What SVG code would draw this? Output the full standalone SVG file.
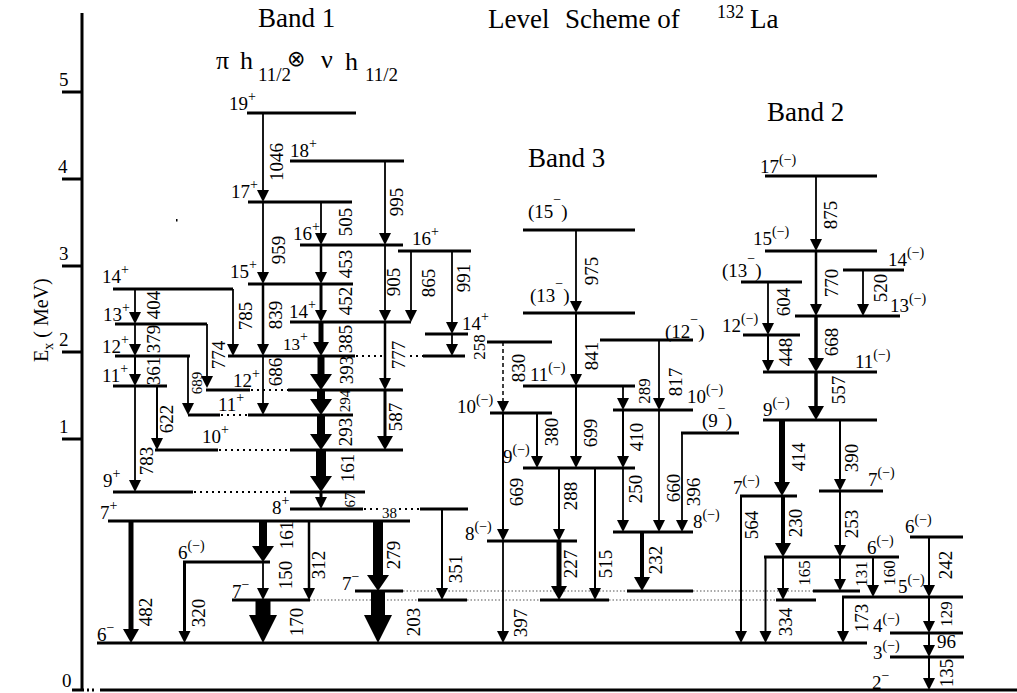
<svg xmlns="http://www.w3.org/2000/svg" width="1017" height="693" viewBox="0 0 1017 693" font-family="'Liberation Serif', 'DejaVu Serif', serif">
<style>
text, tspan{font-family:'Liberation Serif','DejaVu Serif',serif;fill:#000}
.lv{stroke:#000;stroke-width:3;fill:none}
.dt{stroke:#000;stroke-width:2;stroke-dasharray:2 4;fill:none}
.dg{stroke:#555;stroke-width:1.2;stroke-dasharray:1.5 2;fill:none}
.ax{stroke:#000;stroke-width:3;fill:none}
.tr line{stroke:#000;stroke-width:1.8;fill:none}
.s{font-size:19px}
.ss{font-size:17px}
.p{font-size:14px}
.e{font-size:19px;text-anchor:middle}
.es{font-size:15px;text-anchor:middle}
.e17{font-size:17px;text-anchor:middle}
.ti{font-size:27px}
text.sym{font-family:'DejaVu Sans',sans-serif}
</style>
<defs>
<marker id="a1" markerUnits="userSpaceOnUse" markerWidth="12" markerHeight="12" refX="0" refY="6" orient="auto" overflow="visible"><path d="M0,0 L12,6 L0,12 Z"/></marker>
<marker id="a2" markerUnits="userSpaceOnUse" markerWidth="14" markerHeight="16" refX="0" refY="8" orient="auto" overflow="visible"><path d="M0,0 L14,8 L0,16 Z"/></marker>
<marker id="a3" markerUnits="userSpaceOnUse" markerWidth="16" markerHeight="22" refX="0" refY="11" orient="auto" overflow="visible"><path d="M0,0 L16,11 L0,22 Z"/></marker>
<marker id="a4" markerUnits="userSpaceOnUse" markerWidth="28" markerHeight="28" refX="0" refY="14" orient="auto" overflow="visible"><path d="M0,0 L28,14 L0,28 Z"/></marker>
</defs>

<g id="axis">
<line class="ax" x1="82" y1="13" x2="82" y2="690"/>
<line class="ax" x1="62" y1="92" x2="82" y2="92"/>
<line class="ax" x1="62" y1="179" x2="82" y2="179"/>
<line class="ax" x1="62" y1="266" x2="82" y2="266"/>
<line class="ax" x1="62" y1="352" x2="82" y2="352"/>
<line class="ax" x1="62" y1="439" x2="82" y2="439"/>
<text class="s" x="59" y="86">5</text>
<text class="s" x="58" y="173">4</text>
<text class="s" x="59" y="260">3</text>
<text class="s" x="59" y="346">2</text>
<text class="s" x="59" y="433">1</text>
<text class="s" x="62" y="687">0</text>
<text font-size="20" transform="translate(48,362) rotate(-90)">E<tspan font-size="14" dy="5">x</tspan><tspan dy="-5"> ( MeV)</tspan></text>
<rect x="176" y="219" width="1.5" height="2.5" fill="#000"/>
</g>

<g id="titles">
<text class="ti" x="258" y="27">Band 1</text>
<text class="ti" y="28"><tspan x="488">Level</tspan><tspan x="565">Scheme of</tspan></text>
<text font-size="18" x="717" y="18">132</text>
<text class="ti" x="750" y="28">La</text>
<text font-size="26" x="216" y="69">π</text>
<text font-size="26" x="240" y="69">h</text>
<text font-size="19" x="258" y="81">11/2</text>
<text class="sym" font-size="22" x="287" y="66">⊗</text>
<text font-size="26" x="321" y="68">ν</text>
<text font-size="26" x="345" y="70">h</text>
<text font-size="19" x="365" y="81">11/2</text>
<text class="ti" x="528" y="167">Band 3</text>
<text class="ti" x="767" y="121">Band 2</text>
</g>

<g id="b1-19p"><line class="lv" x1="247" y1="113" x2="356" y2="113"/><text class="s" x="229" y="110">19<tspan class="p" dy="-9">+</tspan></text></g>
<g id="b1-18p"><line class="lv" x1="290" y1="161" x2="404" y2="161"/><text class="s" x="290" y="157">18<tspan class="p" dy="-9">+</tspan></text></g>
<g id="b1-17p"><line class="lv" x1="248" y1="202" x2="352" y2="202"/><text class="s" x="231" y="198">17<tspan class="p" dy="-9">+</tspan></text></g>
<g id="b1-16p"><line class="lv" x1="300" y1="245" x2="403" y2="245"/><text class="s" x="293" y="240">16<tspan class="p" dy="-9">+</tspan></text></g>
<g id="b1-16pb"><line class="lv" x1="398" y1="251" x2="471" y2="251"/><text class="s" x="412" y="245">16<tspan class="p" dy="-9">+</tspan></text></g>
<g id="b1-15p"><line class="lv" x1="248" y1="284" x2="353" y2="284"/><text class="s" x="230" y="278">15<tspan class="p" dy="-9">+</tspan></text></g>
<g id="b1-14pa"><line class="lv" x1="113" y1="289" x2="233" y2="289"/><text class="s" x="102" y="283">14<tspan class="p" dy="-9">+</tspan></text></g>
<g id="b1-14p"><line class="lv" x1="290" y1="322" x2="411" y2="322"/><text class="s" x="289" y="318">14<tspan class="p" dy="-9">+</tspan></text></g>
<g id="b1-14pb"><line class="lv" x1="425" y1="334" x2="468" y2="334"/><text class="s" x="462" y="330">14<tspan class="p" dy="-9">+</tspan></text></g>
<g id="b1-13pa"><line class="lv" x1="115" y1="324" x2="207" y2="324"/><text class="s" x="103" y="321">13<tspan class="p" dy="-9">+</tspan></text></g>
<g id="b1-13p"><line class="lv" x1="228" y1="356" x2="355" y2="356"/><line class="dt" x1="356" y1="356" x2="383" y2="356"/><line class="dt" x1="410" y1="356" x2="423" y2="356"/><line class="lv" x1="423" y1="356" x2="465" y2="356"/><text class="ss" x="283" y="350">13<tspan class="p" dy="-9">+</tspan></text></g>
<g id="b1-12pa"><line class="lv" x1="115" y1="356" x2="190" y2="356"/><text class="s" x="102" y="353">12<tspan class="p" dy="-9">+</tspan></text></g>
<g id="b1-11pa"><line class="lv" x1="113" y1="386" x2="167" y2="386"/><text class="s" x="102" y="382">11<tspan class="p" dy="-9">+</tspan></text></g>
<g id="b1-12p"><line class="lv" x1="206" y1="390" x2="250" y2="390"/><line class="dt" x1="251" y1="390" x2="288" y2="390"/><line class="lv" x1="288" y1="390" x2="403" y2="390"/><text class="s" x="233" y="387">12<tspan class="p" dy="-9">+</tspan></text></g>
<g id="b1-11p"><line class="lv" x1="188" y1="415" x2="220" y2="415"/><line class="dt" x1="221" y1="415" x2="248" y2="415"/><line class="lv" x1="248" y1="415" x2="353" y2="415"/><text class="s" x="218" y="411">11<tspan class="p" dy="-9">+</tspan></text></g>
<g id="b1-10p"><line class="lv" x1="155" y1="450" x2="218" y2="450"/><line class="dt" x1="219" y1="450" x2="290" y2="450"/><line class="lv" x1="290" y1="450" x2="403" y2="450"/><text class="s" x="202" y="443">10<tspan class="p" dy="-9">+</tspan></text></g>
<g id="b1-9p"><line class="lv" x1="113" y1="492" x2="193" y2="492"/><line class="dt" x1="194" y1="492" x2="290" y2="492"/><line class="lv" x1="290" y1="492" x2="365" y2="492"/><text class="s" x="103" y="487">9<tspan class="p" dy="-9">+</tspan></text></g>
<g id="b1-8p"><line class="lv" x1="290" y1="509" x2="363" y2="509"/><line class="dt" x1="364" y1="509" x2="381" y2="509"/><line class="dt" x1="399" y1="509" x2="420" y2="509"/><line class="lv" x1="420" y1="509" x2="468" y2="509"/><text class="s" x="272" y="514">8<tspan class="p" dy="-9">+</tspan></text><text font-size="15" x="382" y="518">38</text></g>
<g id="b1-7p"><line class="lv" x1="108" y1="521" x2="410" y2="521"/><text class="s" x="100" y="519">7<tspan class="p" dy="-9">+</tspan></text></g>
<g id="lv-6m"><line class="lv" x1="183" y1="562" x2="270" y2="562"/><text class="s" x="178" y="559">6<tspan class="p" dy="-9">(−)</tspan></text></g>
<g id="lv-7ma"><line class="lv" x1="232" y1="600" x2="310" y2="600"/><line class="dg" x1="310" y1="600" x2="418" y2="600"/><line class="lv" x1="418" y1="600" x2="467" y2="600"/><line class="dg" x1="467" y1="600" x2="540" y2="600"/><line class="lv" x1="540" y1="600" x2="609" y2="600"/><line class="dg" x1="609" y1="600" x2="776" y2="600"/><line class="lv" x1="776" y1="600" x2="816" y2="600"/><text class="s" x="232" y="598">7<tspan class="p" dy="-9">−</tspan></text></g>
<g id="lv-7mb"><line class="lv" x1="355" y1="591" x2="403" y2="591"/><line class="dg" x1="403" y1="591" x2="627" y2="591"/><line class="lv" x1="627" y1="591" x2="693" y2="591"/><line class="dg" x1="693" y1="591" x2="813" y2="591"/><line class="lv" x1="813" y1="591" x2="860" y2="591"/><text class="s" x="342" y="590">7<tspan class="p" dy="-9">−</tspan></text></g>
<g id="lv-6minus"><line class="lv" x1="97" y1="643" x2="867" y2="643"/><text class="s" x="97" y="641">6<tspan class="p" dy="-9">−</tspan></text></g>
<g id="lv-ground"><line class="lv" x1="72" y1="690" x2="84" y2="690"/><line class="lv" x1="87" y1="690" x2="89" y2="690"/><line class="lv" x1="92" y1="690" x2="94" y2="690"/><line class="lv" x1="100" y1="690" x2="1017" y2="690"/><text class="s" x="872" y="689">2<tspan class="p" dy="-9">−</tspan></text></g>

<g id="b3-15"><line class="lv" x1="523" y1="230" x2="635" y2="230"/><text class="s" x="528" y="218">(15<tspan class="p" dy="-14">−</tspan><tspan dy="14">)</tspan></text></g>
<g id="b3-13"><line class="lv" x1="523" y1="313" x2="635" y2="313"/><text class="s" x="530" y="302">(13<tspan class="p" dy="-14">−</tspan><tspan dy="14">)</tspan></text></g>
<g id="b3-11"><line class="lv" x1="523" y1="386" x2="635" y2="386"/><text class="s" x="530" y="381">11<tspan class="p" dy="-9">(−)</tspan></text></g>
<g id="b3-12"><line class="lv" x1="600" y1="340" x2="693" y2="340"/><text class="s" x="665" y="338">(12<tspan class="p" dy="-14">−</tspan><tspan dy="14">)</tspan></text></g>
<g id="b3-10b"><line class="lv" x1="613" y1="410" x2="693" y2="410"/><text class="s" x="687" y="403">10<tspan class="p" dy="-9">(−)</tspan></text></g>
<g id="b3-x"><line class="lv" x1="487" y1="342" x2="552" y2="342"/></g>
<g id="b3-10a"><line class="lv" x1="490" y1="413" x2="552" y2="413"/><text class="s" x="457" y="413">10<tspan class="p" dy="-9">(−)</tspan></text></g>
<g id="b3-9"><line class="lv" x1="523" y1="468" x2="635" y2="468"/><text class="s" x="503" y="463">9<tspan class="p" dy="-9">(−)</tspan></text></g>
<g id="b3-9b"><line class="lv" x1="681" y1="433" x2="739" y2="433"/><text class="s" x="702" y="427">(9<tspan class="p" dy="-14">−</tspan><tspan dy="14">)</tspan></text></g>
<g id="b3-8b"><line class="lv" x1="613" y1="532" x2="693" y2="532"/><text class="s" x="693" y="528">8<tspan class="p" dy="-9">(−)</tspan></text></g>
<g id="b3-8a"><line class="lv" x1="487" y1="541" x2="577" y2="541"/><text class="s" x="465" y="540">8<tspan class="p" dy="-9">(−)</tspan></text></g>

<g id="b2-17"><line class="lv" x1="765" y1="176" x2="877" y2="176"/><text class="s" x="760" y="173">17<tspan class="p" dy="-9">(−)</tspan></text></g>
<g id="b2-15"><line class="lv" x1="765" y1="251" x2="877" y2="251"/><text class="s" x="753" y="245">15<tspan class="p" dy="-9">(−)</tspan></text></g>
<g id="b2-13b"><line class="lv" x1="741" y1="282" x2="802" y2="282"/><text class="s" x="722" y="277">(13<tspan class="p" dy="-14">−</tspan><tspan dy="14">)</tspan></text></g>
<g id="b2-14"><line class="lv" x1="843" y1="270" x2="904" y2="270"/><text class="s" x="888" y="266">14<tspan class="p" dy="-9">(−)</tspan></text></g>
<g id="b2-13"><line class="lv" x1="795" y1="316" x2="900" y2="316"/><text class="s" x="890" y="312">13<tspan class="p" dy="-9">(−)</tspan></text></g>
<g id="b2-12"><line class="lv" x1="743" y1="335" x2="800" y2="335"/><text class="s" x="722" y="332">12<tspan class="p" dy="-9">(−)</tspan></text></g>
<g id="b2-11"><line class="lv" x1="763" y1="372" x2="877" y2="372"/><text class="s" x="855" y="368">11<tspan class="p" dy="-9">(−)</tspan></text></g>
<g id="b2-9"><line class="lv" x1="763" y1="420" x2="877" y2="420"/><text class="s" x="763" y="416">9<tspan class="p" dy="-9">(−)</tspan></text></g>
<g id="b2-7a"><line class="lv" x1="740" y1="496" x2="797" y2="496"/><text class="s" x="733" y="494">7<tspan class="p" dy="-9">(−)</tspan></text></g>
<g id="b2-7b"><line class="lv" x1="819" y1="491" x2="883" y2="491"/><text class="s" x="868" y="486">7<tspan class="p" dy="-9">(−)</tspan></text></g>
<g id="b2-6"><line class="lv" x1="764" y1="557" x2="899" y2="557"/><text class="s" x="867" y="554">6<tspan class="p" dy="-9">(−)</tspan></text></g>
<g id="b2-6b"><line class="lv" x1="910" y1="537" x2="963" y2="537"/><text class="s" x="905" y="533">6<tspan class="p" dy="-9">(−)</tspan></text></g>
<g id="b2-5"><line class="lv" x1="842" y1="597" x2="963" y2="597"/><text class="s" x="898" y="593">5<tspan class="p" dy="-9">(−)</tspan></text></g>
<g id="b2-4"><line class="lv" x1="890" y1="633" x2="963" y2="633"/><text class="s" x="873" y="632">4<tspan class="p" dy="-9">(−)</tspan></text></g>
<g id="b2-3"><line class="lv" x1="890" y1="657" x2="964" y2="657"/><text class="s" x="873" y="659">3<tspan class="p" dy="-9">(−)</tspan></text></g>

<g id="connectors" class="tr">
<line x1="263" y1="113" x2="263" y2="190" marker-end="url(#a1)"/>
<line x1="385" y1="161" x2="385" y2="233" marker-end="url(#a1)"/>
<line x1="321" y1="202" x2="321" y2="233" marker-end="url(#a1)"/>
<line x1="263" y1="202" x2="263" y2="272" marker-end="url(#a1)"/>
<line x1="321" y1="245" x2="321" y2="272" style="stroke-width:2.5" marker-end="url(#a1)"/>
<line x1="321" y1="284" x2="321" y2="310" style="stroke-width:3" marker-end="url(#a1)"/>
<line x1="385" y1="245" x2="385" y2="310" marker-end="url(#a1)"/>
<line x1="411" y1="251" x2="411" y2="310" marker-end="url(#a1)"/>
<line x1="452" y1="251" x2="452" y2="322" marker-end="url(#a1)"/>
<line x1="452" y1="334" x2="452" y2="344" marker-end="url(#a1)"/>
<line x1="135" y1="289" x2="135" y2="312" marker-end="url(#a1)"/>
<line x1="135" y1="324" x2="135" y2="344" marker-end="url(#a1)"/>
<line x1="135" y1="356" x2="135" y2="374" style="stroke-width:2" marker-end="url(#a1)"/>
<line x1="233" y1="289" x2="233" y2="344" marker-end="url(#a1)"/>
<line x1="263" y1="284" x2="263" y2="344" style="stroke-width:2.5" marker-end="url(#a1)"/>
<line x1="321" y1="322" x2="321" y2="342" style="stroke-width:5" marker-end="url(#a2)"/>
<line x1="207" y1="324" x2="207" y2="376" marker-end="url(#a1)"/>
<line x1="263" y1="356" x2="263" y2="403" marker-end="url(#a1)"/>
<line x1="188" y1="356" x2="188" y2="403" marker-end="url(#a1)"/>
<line x1="385" y1="322" x2="385" y2="378" style="stroke-width:2.5" marker-end="url(#a1)"/>
<line x1="321" y1="356" x2="321" y2="374" style="stroke-width:7" marker-end="url(#a3)"/>
<line x1="321" y1="390" x2="321" y2="399" style="stroke-width:8" marker-end="url(#a3)"/>
<line x1="321" y1="415" x2="321" y2="434" style="stroke-width:8" marker-end="url(#a3)"/>
<line x1="385" y1="390" x2="385" y2="436" style="stroke-width:3" marker-end="url(#a2)"/>
<line x1="157" y1="386" x2="157" y2="438" style="stroke-width:2" marker-end="url(#a1)"/>
<line x1="135" y1="386" x2="135" y2="480" marker-end="url(#a1)"/>
<line x1="321" y1="450" x2="321" y2="476" style="stroke-width:10" marker-end="url(#a3)"/>
<line x1="321" y1="492" x2="321" y2="497" style="stroke-width:3" marker-end="url(#a1)"/>
<line x1="131" y1="521" x2="131" y2="629" style="stroke-width:5" marker-end="url(#a2)"/>
<line x1="184.5" y1="561" x2="184.5" y2="631" style="stroke-width:3" marker-end="url(#a1)"/>
<line x1="263" y1="521" x2="263" y2="546" style="stroke-width:8" marker-end="url(#a3)"/>
<line x1="263" y1="562" x2="263" y2="588" marker-end="url(#a1)"/>
<line x1="309" y1="521" x2="309" y2="588" style="stroke-width:2.5" marker-end="url(#a1)"/>
<line x1="263" y1="600" x2="263" y2="615" style="stroke-width:15" marker-end="url(#a4)"/>
<line x1="378" y1="521" x2="378" y2="575" style="stroke-width:10" marker-end="url(#a3)"/>
<line x1="378" y1="591" x2="378" y2="615" style="stroke-width:14" marker-end="url(#a4)"/>
<line x1="442" y1="509" x2="442" y2="588" style="stroke-width:2" marker-end="url(#a1)"/>

<line x1="576" y1="230" x2="576" y2="301" marker-end="url(#a1)"/>
<line x1="576" y1="313" x2="576" y2="374" style="stroke-width:2" marker-end="url(#a1)"/>
<line x1="503" y1="342" x2="503" y2="401" style="stroke-width:1.5;stroke-dasharray:4 3" marker-end="url(#a1)"/>
<line x1="659" y1="340" x2="659" y2="398" marker-end="url(#a1)"/>
<line x1="623" y1="386" x2="623" y2="398" marker-end="url(#a1)"/>
<line x1="537" y1="413" x2="537" y2="456" style="stroke-width:2" marker-end="url(#a1)"/>
<line x1="576" y1="386" x2="576" y2="456" style="stroke-width:2" marker-end="url(#a1)"/>
<line x1="623" y1="410" x2="623" y2="456" style="stroke-width:2" marker-end="url(#a1)"/>
<line x1="682" y1="433" x2="682" y2="520" marker-end="url(#a1)"/>
<line x1="659" y1="410" x2="659" y2="520" marker-end="url(#a1)"/>
<line x1="623" y1="468" x2="623" y2="520" marker-end="url(#a1)"/>
<line x1="559" y1="468" x2="559" y2="529" style="stroke-width:2" marker-end="url(#a1)"/>
<line x1="503" y1="413" x2="503" y2="529" style="stroke-width:2" marker-end="url(#a1)"/>
<line x1="595" y1="468" x2="595" y2="588" style="stroke-width:2" marker-end="url(#a1)"/>
<line x1="559" y1="541" x2="559" y2="586" style="stroke-width:5" marker-end="url(#a2)"/>
<line x1="642" y1="532" x2="642" y2="577" style="stroke-width:4" marker-end="url(#a2)"/>
<line x1="503" y1="541" x2="503" y2="631" marker-end="url(#a1)"/>

<line x1="816" y1="176" x2="816" y2="239" marker-end="url(#a1)"/>
<line x1="816" y1="251" x2="816" y2="304" style="stroke-width:2.5" marker-end="url(#a1)"/>
<line x1="863" y1="270" x2="863" y2="304" marker-end="url(#a1)"/>
<line x1="768" y1="282" x2="768" y2="323" marker-end="url(#a1)"/>
<line x1="768" y1="335" x2="768" y2="360" style="stroke-width:2" marker-end="url(#a1)"/>
<line x1="816" y1="316" x2="816" y2="358" style="stroke-width:3.5" marker-end="url(#a2)"/>
<line x1="816" y1="372" x2="816" y2="406" style="stroke-width:3.5" marker-end="url(#a2)"/>
<line x1="782" y1="420" x2="782" y2="482" style="stroke-width:6" marker-end="url(#a2)"/>
<line x1="840" y1="420" x2="840" y2="479" style="stroke-width:2" marker-end="url(#a1)"/>
<line x1="741" y1="496" x2="741" y2="631" style="stroke-width:2" marker-end="url(#a1)"/>
<line x1="783" y1="496" x2="783" y2="543" style="stroke-width:4" marker-end="url(#a2)"/>
<line x1="840" y1="491" x2="840" y2="545" style="stroke-width:2" marker-end="url(#a1)"/>
<line x1="783" y1="557" x2="783" y2="588" style="stroke-width:2" marker-end="url(#a1)"/>
<line x1="840" y1="557" x2="840" y2="579" style="stroke-width:2" marker-end="url(#a1)"/>
<line x1="873" y1="557" x2="873" y2="585" style="stroke-width:2" marker-end="url(#a1)"/>
<line x1="765.5" y1="557" x2="765.5" y2="631" style="stroke-width:2" marker-end="url(#a1)"/>
<line x1="843" y1="597" x2="843" y2="631" style="stroke-width:2" marker-end="url(#a1)"/>
<line x1="929" y1="537" x2="929" y2="585" style="stroke-width:2" marker-end="url(#a1)"/>
<line x1="929" y1="597" x2="929" y2="621" style="stroke-width:2" marker-end="url(#a1)"/>
<line x1="929" y1="633" x2="929" y2="645" style="stroke-width:2" marker-end="url(#a1)"/>
<line x1="929" y1="657" x2="929" y2="678" style="stroke-width:2" marker-end="url(#a1)"/>

<g id="energies">
<text class="e" transform="translate(283,162) rotate(-90)">1046</text>
<text class="e" transform="translate(403,202) rotate(-90)">995</text>
<text class="e" transform="translate(352,222) rotate(-90)">505</text>
<text class="e" transform="translate(285,250) rotate(-90)">959</text>
<text class="e" transform="translate(352,264) rotate(-90)">453</text>
<text class="e" transform="translate(352,301) rotate(-90)">452</text>
<text class="e" transform="translate(400,282) rotate(-90)">905</text>
<text class="e" transform="translate(435,283) rotate(-90)">865</text>
<text class="e" transform="translate(470,278) rotate(-90)">991</text>
<text class="e" transform="translate(160,305) rotate(-90)">404</text>
<text class="e" transform="translate(252,316) rotate(-90)">785</text>
<text class="e" transform="translate(282,315) rotate(-90)">839</text>
<text class="e" transform="translate(160,339) rotate(-90)">379</text>
<text class="e" transform="translate(352,339) rotate(-90)">385</text>
<text class="e" transform="translate(405,355) rotate(-90)">777</text>
<text class="e17" transform="translate(485,347) rotate(-90)">258</text>
<text class="e" transform="translate(225,355) rotate(-90)">774</text>
<text class="e" transform="translate(160,371) rotate(-90)">361</text>
<text class="e" transform="translate(282,372) rotate(-90)">686</text>
<text class="es" transform="translate(202,383) rotate(-90)">689</text>
<text class="e" transform="translate(353,370) rotate(-90)">393</text>
<text class="es" transform="translate(350,401) rotate(-90)">294</text>
<text class="e" transform="translate(402,417) rotate(-90)">587</text>
<text class="e" transform="translate(173,419) rotate(-90)">622</text>
<text class="e" transform="translate(352,432) rotate(-90)">293</text>
<text class="e" transform="translate(153,461) rotate(-90)">783</text>
<text class="e" transform="translate(354,468) rotate(-90)">161</text>
<text class="es" font-size="14" transform="translate(355,500) rotate(-90)">67</text>
<text class="e" transform="translate(152,612) rotate(-90)">482</text>
<text class="e" transform="translate(205,613) rotate(-90)">320</text>
<text class="e" transform="translate(293,535) rotate(-90)">161</text>
<text class="e" transform="translate(292,575) rotate(-90)">150</text>
<text class="e" transform="translate(325,565) rotate(-90)">312</text>
<text class="e" transform="translate(400,555) rotate(-90)">279</text>
<text class="e" transform="translate(462,569) rotate(-90)">351</text>
<text class="e" transform="translate(303,622) rotate(-90)">170</text>
<text class="e" transform="translate(420,622) rotate(-90)">203</text>
<text class="e" transform="translate(525,368) rotate(-90)">830</text>
<text class="e" transform="translate(598,271) rotate(-90)">975</text>
<text class="e" transform="translate(598,356) rotate(-90)">841</text>
<text class="e" transform="translate(682,382) rotate(-90)">817</text>
<text class="e17" transform="translate(650,391) rotate(-90)">289</text>
<text class="e" transform="translate(558,432) rotate(-90)">380</text>
<text class="e" transform="translate(597,433) rotate(-90)">699</text>
<text class="e" transform="translate(643,437) rotate(-90)">410</text>
<text class="e" transform="translate(523,492) rotate(-90)">669</text>
<text class="e" transform="translate(577,496) rotate(-90)">288</text>
<text class="e" transform="translate(642,489) rotate(-90)">250</text>
<text class="e" transform="translate(680,488) rotate(-90)">660</text>
<text class="e" transform="translate(700,492) rotate(-90)">396</text>
<text class="e" transform="translate(577,564) rotate(-90)">227</text>
<text class="e" transform="translate(612,564) rotate(-90)">515</text>
<text class="e" transform="translate(662,560) rotate(-90)">232</text>
<text class="e" transform="translate(527,623) rotate(-90)">397</text>
<text class="e" transform="translate(758,525) rotate(-90)">564</text>
<text class="e" transform="translate(837,215) rotate(-90)">875</text>
<text class="e" transform="translate(838,283) rotate(-90)">770</text>
<text class="e" transform="translate(887,288) rotate(-90)">520</text>
<text class="e" transform="translate(790,302) rotate(-90)">604</text>
<text class="e" transform="translate(838,342) rotate(-90)">668</text>
<text class="e" transform="translate(792,352) rotate(-90)">448</text>
<text class="e" transform="translate(845,390) rotate(-90)">557</text>
<text class="e" transform="translate(805,457) rotate(-90)">414</text>
<text class="e" transform="translate(858,458) rotate(-90)">390</text>
<text class="e" transform="translate(802,523) rotate(-90)">230</text>
<text class="e" transform="translate(858,524) rotate(-90)">253</text>
<text class="e17" transform="translate(810,573) rotate(-90)">165</text>
<text class="e17" transform="translate(867,574) rotate(-90)">131</text>
<text class="e17" transform="translate(895,573) rotate(-90)">160</text>
<text class="e" transform="translate(952,565) rotate(-90)">242</text>
<text class="e" transform="translate(792,622) rotate(-90)">334</text>
<text class="e" transform="translate(868,618) rotate(-90)">173</text>
<text class="e17" transform="translate(952,614) rotate(-90)">129</text>
<text class="e" transform="translate(953,673) rotate(-90)">135</text>
<text font-size="19" x="937" y="648">96</text>
</g>
</g>
</svg>
